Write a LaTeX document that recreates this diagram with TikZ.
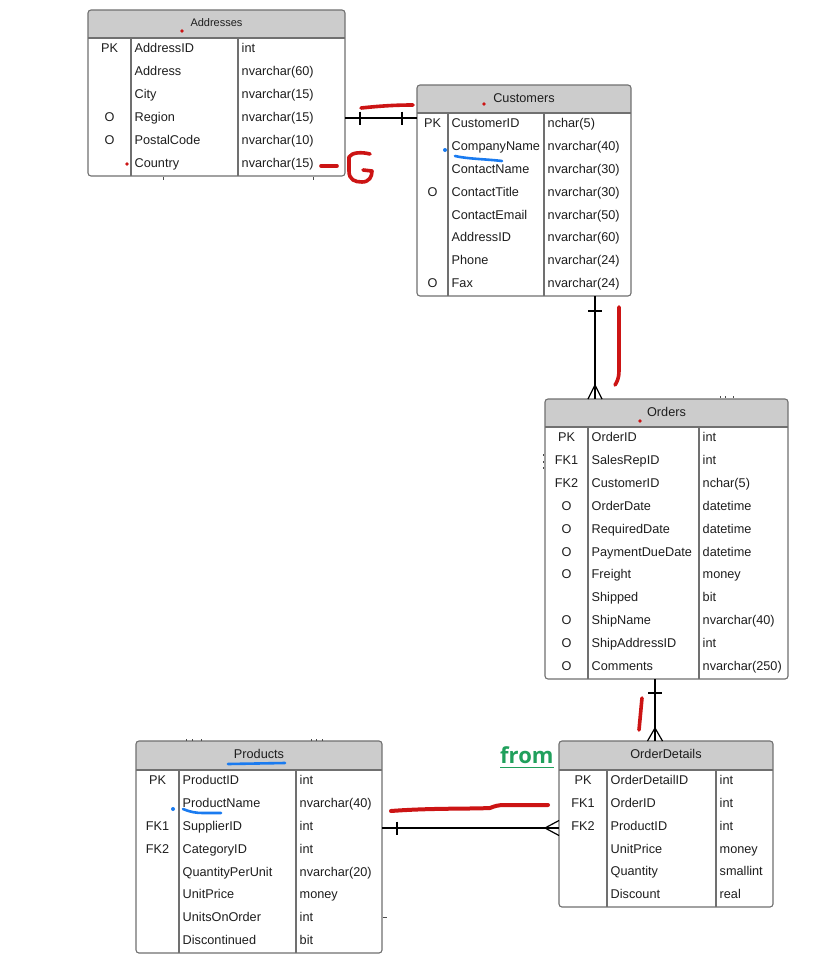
\documentclass[tikz,border=0pt]{standalone}
\usepackage{fontspec}
\setmainfont{Liberation Sans}
\newfontfamily\openfont{Open Sans}
\usetikzlibrary{calc}

\definecolor{headfill}{HTML}{CCCCCC}
\definecolor{boxline}{HTML}{707070}
\definecolor{inktext}{HTML}{1E1E1E}
\definecolor{penred}{HTML}{CC1414}
\definecolor{penblue}{HTML}{1A7BF0}
\definecolor{fromgreen}{HTML}{20A05C}

\tikzset{
  tablebox/.style={draw=boxline, line width=1.1pt, rounded corners=3pt, inner sep=0pt, outer sep=0pt},
  gridline/.style={draw=boxline, line width=1.1pt},
  celltext/.style={inner sep=0pt, text=inktext, font=\fontsize{12.7}{15}\selectfont},
  titletext/.style={inner sep=0pt, anchor=base, text=inktext, font=\fontsize{12.7}{15}\selectfont},
  relation/.style={draw=black, line width=1.2pt},
  redpen/.style={draw=penred, line width=3.6pt, line cap=round, line join=round},
  bluepen/.style={draw=penblue, line width=2.6pt, line cap=round, line join=round},
  stray/.style={draw=black!70, line width=0.9pt},
}

% table frame: name, left, top, right, bottom, header bottom, divider 1, divider 2, title
\newcommand\ertable[9]{%
  \def\tA{#2}\def\tH{#6}\def\tP{#7}\def\tQ{#8}%
  \begin{scope}
    \clip[rounded corners=3pt] (#2,#3) rectangle (#4,#5);
    \fill[headfill] (#2,#3) rectangle (#4,#6);
  \end{scope}
  \node[tablebox, anchor=north west, minimum width={(#4-#2)*1pt},
        minimum height={(#5-#3)*1pt}] (#1) at (#2,#3) {};
  \draw[gridline] (#2,#6) -- (#4,#6) (#7,#6) -- (#7,#5) (#8,#6) -- (#8,#5);
  \node[titletext] (#1-title) at ({(#2+#4)/2},{#3+17}) {#9};
}

% table rows: name, row height, key/field/type list
\newcommand\errows[3]{%
  \foreach \colK/\colN/\colT [count=\i] in {#3} {
    \pgfmathsetmacro\yb{\tH+(\i-1)*#2+14.5}
    \node[celltext, anchor=base] (#1-k\i) at ({(\tA+\tP)/2},\yb) {\colK};
    \node[celltext, anchor=base west] (#1-n\i) at (\tP+3.5,\yb) {\colN};
    \node[celltext, anchor=base west] (#1-t\i) at (\tQ+3.5,\yb) {\colT};
  }%
}

\begin{document}
\begin{tikzpicture}[x=1pt,y=-1pt]
\fill[white] (0,0) rectangle (813,969);
\useasboundingbox (0,0) rectangle (813,969);

% ---------------- tables ----------------
\ertable{addr}{88}{10}{345}{176}{38}{131}{238}{\fontsize{11}{13}\selectfont Addresses}
\errows{addr}{23}{PK/AddressID/int, /Address/nvarchar(60), /City/nvarchar(15),
  O/Region/nvarchar(15), O/PostalCode/nvarchar(10), /Country/nvarchar(15)}

\ertable{cust}{417}{85}{631}{296}{113}{448}{544}{Customers}
\errows{cust}{22.875}{PK/CustomerID/nchar(5), /CompanyName/nvarchar(40),
  /ContactName/nvarchar(30), O/ContactTitle/nvarchar(30), /ContactEmail/nvarchar(50),
  /AddressID/nvarchar(60), /Phone/nvarchar(24), O/Fax/nvarchar(24)}

\ertable{ord}{545}{399}{788}{679}{427}{588}{699}{Orders}
\errows{ord}{22.9}{PK/OrderID/int, FK1/SalesRepID/int, FK2/CustomerID/nchar(5),
  O/OrderDate/datetime, O/RequiredDate/datetime, O/PaymentDueDate/datetime,
  O/Freight/money, /Shipped/bit, O/ShipName/nvarchar(40), O/ShipAddressID/int,
  O/Comments/nvarchar(250)}

\ertable{prod}{136}{741}{382}{953}{770}{179}{296}{Products}
\errows{prod}{22.875}{PK/ProductID/int, /ProductName/nvarchar(40), FK1/SupplierID/int,
  FK2/CategoryID/int, /QuantityPerUnit/nvarchar(20), /UnitPrice/money,
  /UnitsOnOrder/int, /Discontinued/bit}

\ertable{odet}{559}{741}{773}{907}{770}{607}{716}{OrderDetails}
\errows{odet}{22.83}{PK/OrderDetailID/int, FK1/OrderID/int, FK2/ProductID/int,
  /UnitPrice/money, /Quantity/smallint, /Discount/real}

% ---------------- relationships ----------------
% Addresses -- Customers (one and only one at both ends)
\coordinate (r1a) at (addr.east |- 0,118);
\coordinate (r1b) at (cust.west |- 0,118);
\draw[relation] (r1a) -- (r1b);
\draw[relation] ($(r1a)+(15,-6.5)$) -- ($(r1a)+(15,6.5)$);
\draw[relation] ($(r1b)+(-15,-6.5)$) -- ($(r1b)+(-15,6.5)$);

% Customers -- Orders (one to many)
\coordinate (r2a) at (cust.south -| 595,0);
\coordinate (r2b) at (ord.north -| 595,0);
\draw[relation] (r2a) -- (r2b);
\draw[relation] ($(r2a)+(-7,15)$) -- ($(r2a)+(7,15)$);
\draw[relation] ($(r2b)+(-7,0)$) -- ($(r2b)+(0,-14)$) -- ($(r2b)+(7,0)$);

% Orders -- OrderDetails (one to many)
\coordinate (r3a) at (ord.south -| 655,0);
\coordinate (r3b) at (odet.north -| 655,0);
\draw[relation] (r3a) -- (r3b);
\draw[relation] ($(r3a)+(-7,14)$) -- ($(r3a)+(7,14)$);
\draw[relation] ($(r3b)+(-7.5,0)$) -- ($(r3b)+(0,-13)$) -- ($(r3b)+(7.5,0)$);

% Products -- OrderDetails (one to many)
\coordinate (r4a) at (prod.east |- 0,828);
\coordinate (r4b) at (odet.west |- 0,828);
\draw[relation] (r4a) -- (r4b);
\draw[relation] ($(r4a)+(15,-6.5)$) -- ($(r4a)+(15,6.5)$);
\draw[relation] ($(r4b)+(0,-7.5)$) -- ($(r4b)+(-14,0)$) -- ($(r4b)+(0,7.5)$);

% small leftover marks
\draw[stray] (163,177) -- (163,180) (313,177) -- (313,180);
\draw[stray] (720,396) -- (720,398) (725,396) -- (725,398) (733,396) -- (733,398);
\draw[stray] (543,454) -- (543,456) (543,461) -- (543,463) (543,467) -- (543,469);
\draw[stray] (186,739) -- (186,741) (192,739) -- (192,741) (201,739) -- (201,741);
\draw[stray] (311,739) -- (311,741) (316,739) -- (316,741) (322,739) -- (322,741);
\draw[stray] (383,917) -- (387,917);

% ---------------- hand annotations ----------------
\draw[redpen] (361,108) .. controls (380,106) and (395,105) .. (413,105);
\draw[redpen] (321,166) -- (337,166);
\draw[redpen] (370,154) .. controls (362,152) and (352,152) .. (349,157) -- (349,171)
  .. controls (349,180) and (355,182) .. (362,182)
  .. controls (369,182) and (372,177) .. (372,171) -- (363,170);
\draw[redpen] (619,307) -- (619,371) .. controls (619,378) and (617,382) .. (615,385);
\draw[redpen] (642,698) -- (639,730);
\draw[redpen, line width=4pt] (391,811) .. controls (430,808) and (470,809) .. (490,808)
  .. controls (495,806) and (498,805) .. (505,805) -- (548,805);
\fill[penred] (182,31) circle (1.9) (484,104) circle (1.9) (640,421) circle (1.9)
  (127,164) circle (1.9);

\draw[bluepen] (455,156) .. controls (468,159) and (485,159) .. (502,161);
\draw[bluepen] (228,764) -- (285,763);
\draw[bluepen] (183,809) .. controls (190,812) and (196,813) .. (203,813) -- (221,813);
\fill[penblue] (445,150) circle (2) (173,809) circle (2);

\node[anchor=base west, inner sep=0pt, text=fromgreen,
      font={\openfont\bfseries\fontsize{22}{26}\selectfont}] (fromlbl) at (500,763) {from};
\draw[fromgreen, line width=1.8pt] ($(fromlbl.base west)+(0,4.5)$) -- ($(fromlbl.base east)+(0,4.5)$);
\end{tikzpicture}
\end{document}
